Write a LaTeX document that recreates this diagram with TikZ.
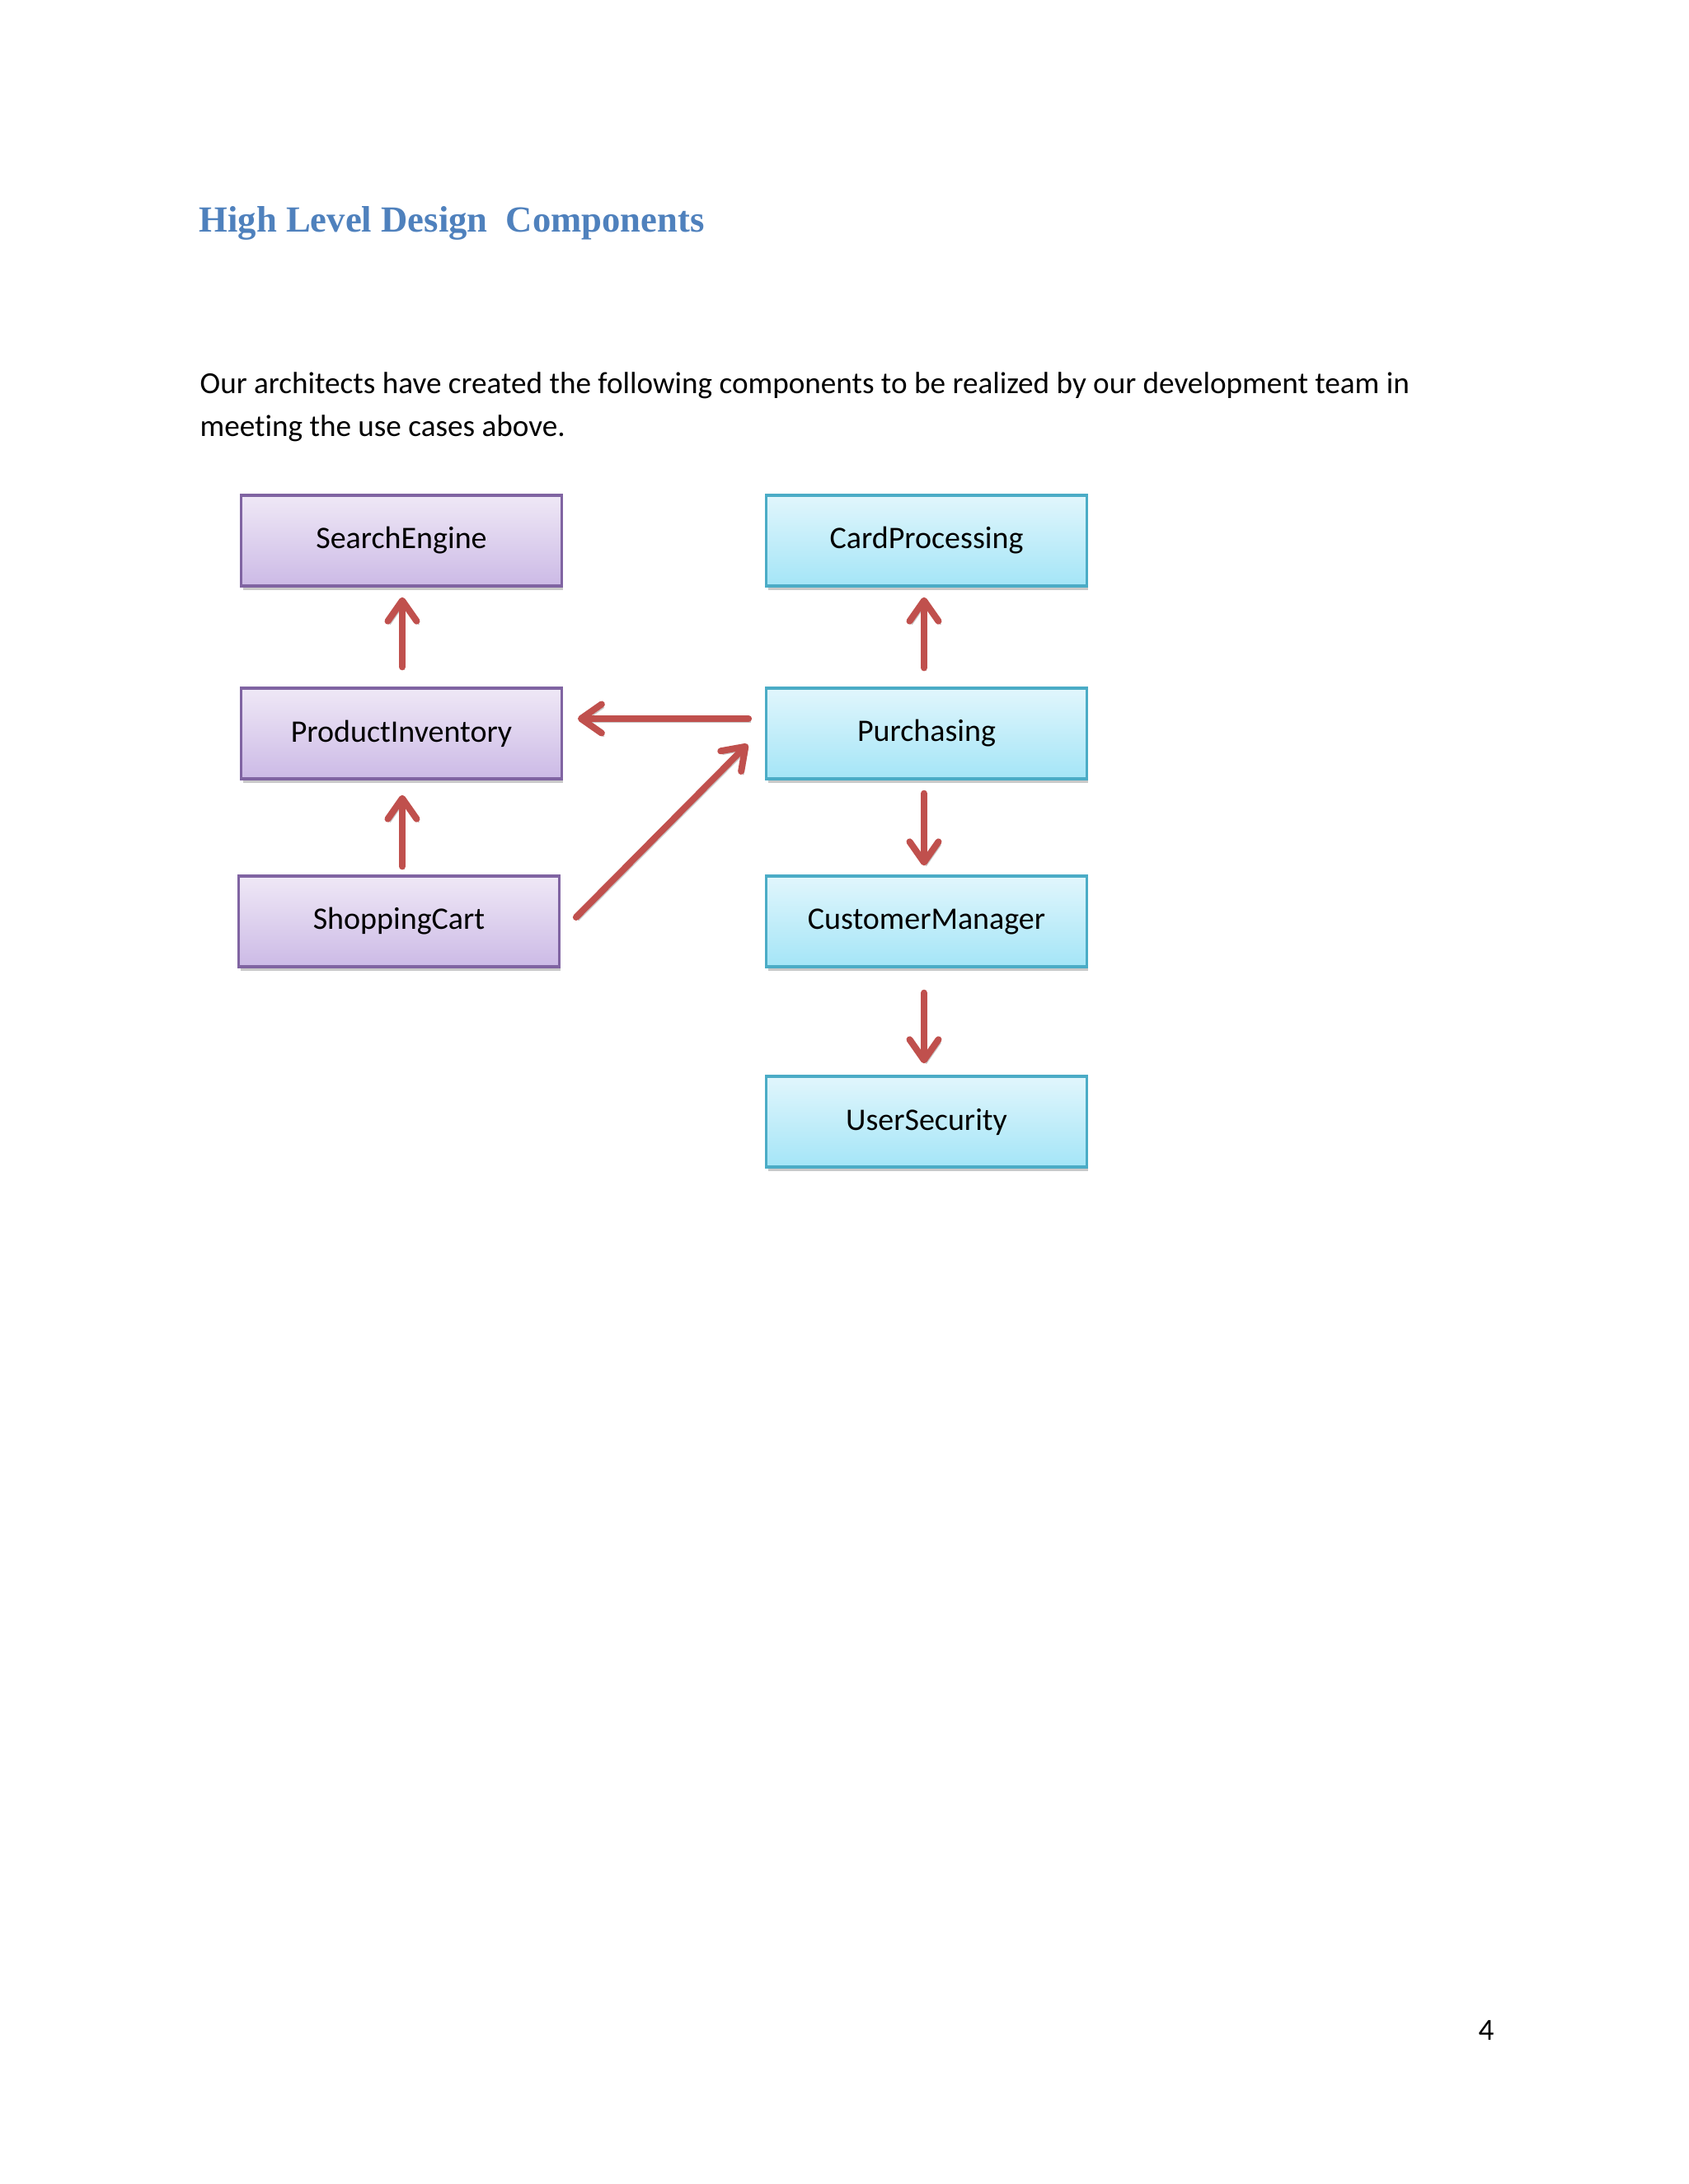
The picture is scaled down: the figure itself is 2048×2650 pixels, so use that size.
\documentclass[tikz,border=0pt]{standalone}
\usepackage{fontspec}
\setmainfont{Carlito}[Ligatures=NoCommon]
\newfontfamily\titlefont{Liberation Serif}
\usetikzlibrary{arrows.meta,calc,shadows}
\definecolor{titleblue}{RGB}{79,129,189}
\definecolor{purpleedge}{RGB}{128,100,162}
\definecolor{purpletop}{RGB}{239,232,246}
\definecolor{purplebot}{RGB}{204,186,230}
\definecolor{cyanedge}{RGB}{75,172,198}
\definecolor{cyantop}{RGB}{225,246,252}
\definecolor{cyanbot}{RGB}{164,229,247}
\definecolor{arrred}{RGB}{192,80,77}
\tikzset{
  comp/.style={rectangle, line width=1pt, minimum width=116.5pt, minimum height=33pt,
    inner sep=0pt, font=\fontsize{11.4}{13}\selectfont,
    drop shadow={shadow xshift=0.6pt, shadow yshift=-1.6pt, opacity=0.35, fill=black!60}},
  purplebox/.style={comp, draw=purpleedge, top color=purpletop, bottom color=purplebot},
  cyanbox/.style={comp, draw=cyanedge, top color=cyantop, bottom color=cyanbot},
  arr/.style={draw=arrred, line width=2.4pt, line cap=round, line join=round,
    -{Straight Barb[length=7.5pt,width=10.5pt,line cap=round,line join=round]},
    preaction={draw=black!22, transform canvas={shift={(0.8pt,-1.2pt)}}}},
  bodytext/.style={anchor=base west, inner sep=0pt, font=\fontsize{11.15}{13}\selectfont}
}
\begin{document}
\begin{tikzpicture}[x=0.29994pt,y=-0.29994pt]
\useasboundingbox[fill=white] (0,0) rectangle (2048,2650);
\node[anchor=base west, inner sep=0pt, text=titleblue, font=\titlefont\bfseries\fontsize{13.4}{16}\selectfont] (title) at (241,281) {High Level Design\ \ Components};
\node[bodytext] (line1) at (242,477) {Our architects have created the following components to be realized by our development team in};
\node[bodytext] (line2) at (242,529) {meeting the use cases above.};
\node[purplebox] (se) at (487,656) {SearchEngine};
\node[purplebox] (pi) at (487,890) {ProductInventory};
\node[purplebox] (sc) at (484,1118) {ShoppingCart};
\node[cyanbox] (cp) at (1124,656) {CardProcessing};
\node[cyanbox] (pu) at (1124,890) {Purchasing};
\node[cyanbox] (cm) at (1124,1118) {CustomerManager};
\node[cyanbox] (us) at (1124,1361) {UserSecurity};
\draw[arr] ($(pi.north)+(1,-24)$) -- ($(se.south)+(1,12)$);
\draw[arr] ($(sc.north)+(4,-10)$) -- ($(pi.south)+(1,18)$);
\draw[arr] ($(pu.north)+(-3,-23)$) -- ($(cp.south)+(-3,12)$);
\draw[arr] ($(pu.south)+(-3,16)$) -- ($(cm.north)+(-3,-11)$);
\draw[arr] ($(cm.south)+(-3,30)$) -- ($(us.north)+(-3,-14)$);
\draw[arr] ($(pu.west)+(-20,-18)$) -- ($(pi.east)+(18,-18)$);
\draw[arr] ($(sc.east)+(19,-5)$) -- ($(pu.west)+(-21,13)$);
\node[bodytext] (pagenum) at (1793,2475) {4};
\end{tikzpicture}
\end{document}
